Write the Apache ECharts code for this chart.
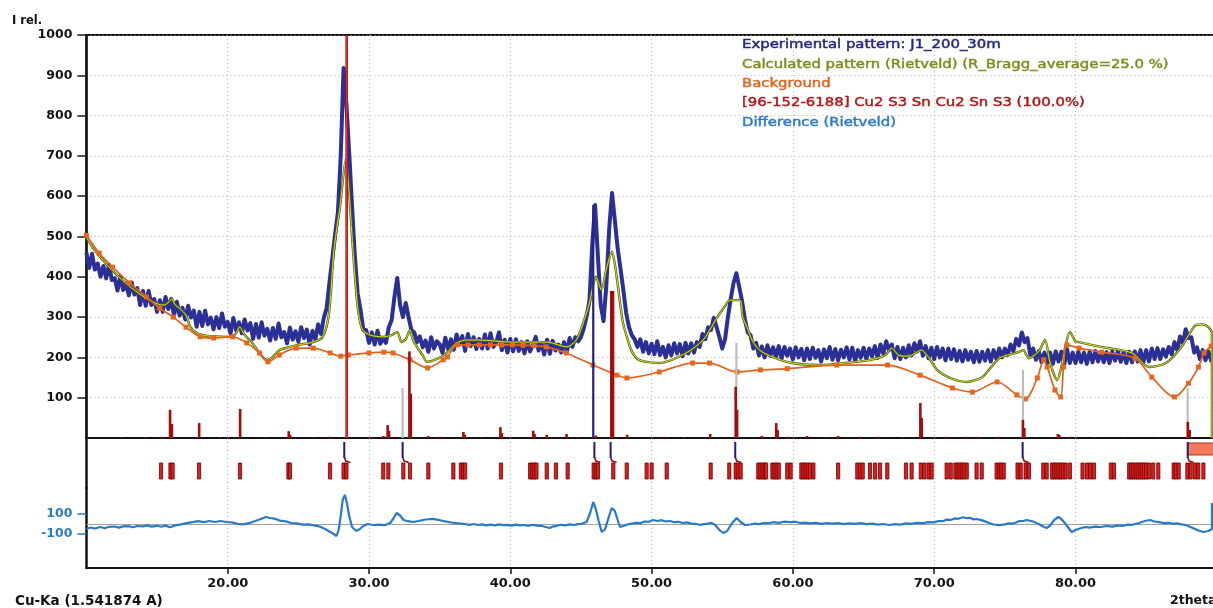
<!DOCTYPE html>
<html><head><meta charset="utf-8">
<script src="https://cdn.jsdelivr.net/npm/echarts@6/dist/echarts.min.js"></script>
<style>html,body{margin:0;padding:0;background:#fff;}#c{width:1213px;height:608px;}</style>
</head><body><div id="c"></div>
<script>
// ---------- data ----------
const expStart = 10, expStep = 0.2;
const expY = [
460,422,457,418,433, 400,427,396,430,392, 397,366,401,367,384, 354,386,356,372,330,
365,328,365,330,345, 313,342,313,350,320, 345,304,338,304,323, 294,328,299,316,276,
313,278,316,282,299, 270,300,273,309,276, 288,259,298,267,287, 260,294,267,285,246,
283,249,287,254,271, 242,273,246,284,250, 263,235,274,244,265, 239,275,248,269,232,
266,245,282,258,298, 322,385,445,505,560, 700,918,830,707,575, 450,358,318,268,268,
236,262,232,266,234, 248,236,275,292,350, 397,330,300,335,300, 268,262,238,252,225,
242,214,250,222,240, 233,211,249,221,245, 219,257,232,253,216, 258,228,250,221,246,
222,257,222,260,226, 237,262,218,244,212, 246,215,245,216,238, 210,240,215,231,251,
217,236,207,244,209, 241,217,232,212,238, 214,248,226,250,240, 250,272,302,340,480,
578,450,330,290,380, 520,608,540,470,420, 367,310,275,255,245, 226,245,214,238,210,
234,208,240,206,226, 200,230,205,235,210, 233,203,236,210,235, 212,238,226,258,245,
275,268,298,275,250, 222,245,300,345,385, 409,375,340,295,262, 255,222,236,205,227,
200,230,204,225,201, 228,197,226,204,222, 195,225,200,221,193, 222,196,224,199,218,
190,220,198,226,194, 221,193,219,200,225, 195,224,192,218,199, 224,196,222,203,228,
199,232,210,240,218, 232,198,226,196,224, 200,230,205,235,215, 240,204,228,198,224,
196,226,200,222,193, 222,196,220,192,216, 190,218,194,214,188, 216,189,214,192,218,
190,218,196,222,200, 222,206,232,215,246, 230,262,238,248,206, 222,194,215,188,212,
186,212,184,215,190, 214,182,220,186,212, 186,215,188,212,184, 214,188,216,190,212,
188,213,186,214,192, 215,189,212,186,214, 188,215,190,218,188, 218,190,222,196,223,
196,220,202,226,208, 238,218,252,236,270, 248,250,212,225,196, 218,193,215,192,212
];
const calcPts = [[10,498],[10.5,470],[11,448],[11.5,428],[12,410],[13,378],[14,352],[15,333],[15.5,330],[15.85,338],[16.05,345],[16.25,332],[16.65,320],[17.05,305],[17.35,276],[17.75,262],[18.25,255],[19.05,252],[20.05,251],[20.55,258],[20.85,276],[21.15,258],[21.75,236],[22.25,210],[22.75,194],[23.15,200],[23.65,218],[24.25,225],[24.85,230],[26.05,238],[26.7,250],[27.1,293],[27.3,360],[27.5,459],[27.8,540],[27.95,573],[28.15,640],[28.35,690],[28.55,630],[28.85,474],[29.05,380],[29.25,310],[29.55,268],[30.1,255],[31.0,251],[31.6,255],[32.0,263],[32.3,238],[32.6,245],[32.9,268],[33.1,245],[33.4,226],[33.8,205],[34.1,189],[34.5,192],[35.1,201],[35.5,211],[36.2,236],[36.9,243],[37.8,243],[40.1,238],[42.6,238],[44.0,226],[44.6,240],[44.9,260],[45.3,300],[45.6,335],[45.9,385],[46.05,400],[46.45,367],[46.8,420],[47.2,462],[47.45,420],[47.65,367],[47.95,290],[48.25,251],[48.6,215],[49.1,194],[50.55,186],[52.45,211],[53.65,243],[54.15,270],[54.65,300],[55.15,325],[55.55,342],[56.25,342],[56.45,300],[56.75,275],[57.15,240],[57.65,218],[58.55,201],[59.95,186],[61.85,181],[63.7,186],[65.5,194],[66.5,205],[67.0,223],[67.5,205],[68.2,203],[69.1,218],[69.6,200],[70.2,169],[71.1,149],[72.3,139],[73.4,151],[74.6,198],[75.8,211],[76.3,218],[76.7,198],[77.4,215],[77.85,243],[78.15,194],[78.45,160],[78.7,144],[79.0,176],[79.3,230],[79.6,263],[80.0,240],[80.25,238],[81.8,226],[84.0,211],[85.2,176],[86.4,186],[87.5,226],[88.0,255],[88.5,280],[89.0,282],[89.4,275],[89.65,262],[89.66,0]];
const bgPts = [[10,503],[10.9,459],[11.85,424],[13.05,385],[14.25,350],[15.2,322],[16.15,300],[17.05,275],[18.05,251],[19.0,248],[20.35,251],[21.35,236],[22.25,211],[22.85,189],[23.65,206],[24.85,223],[26.05,223],[27.25,211],[28.0,203],[28.55,206],[30.0,211],[31.05,213],[31.7,211],[32.9,194],[34.15,174],[35.25,194],[35.55,201],[36.25,231],[37.0,231],[37.8,231],[38.6,231],[39.4,231],[40.15,231],[40.9,230],[41.7,229],[42.55,226],[43.95,211],[45.85,181],[47.55,156],[48.25,149],[50.55,164],[52.9,186],[54.1,186],[56.05,164],[57.7,169],[59.6,172],[63.1,181],[66.7,181],[69.0,156],[71.3,124],[72.7,114],[74.45,139],[75.85,107],[76.45,97],[77.3,149],[77.75,194],[78.0,176],[78.55,119],[78.95,102],[79.15,176],[79.4,231],[80.25,223],[81.85,213],[84.2,198],[85.4,151],[87.0,102],[88.0,136],[88.7,176],[89.1,211],[89.6,228]];
const diffPts = [[10.0,-50],[10.3,-35],[10.6,-45],[11.0,-30],[11.3,-42],[11.6,-28],[12.0,-25],[12.3,-36],[12.6,-24],[13.0,-22],[13.3,-32],[13.6,-20],[14.0,-24],[14.3,-14],[14.6,-26],[15.0,-18],[15.3,-28],[15.6,-16],[15.9,-32],[16.3,-14],[16.7,-4],[17.1,8],[17.5,18],[17.9,28],[18.3,18],[18.7,30],[19.1,20],[19.5,30],[19.9,20],[20.3,16],[20.7,2],[21.1,-4],[21.5,8],[21.9,28],[22.3,48],[22.7,70],[23.0,60],[23.3,54],[23.7,34],[24.1,26],[24.5,10],[24.9,6],[25.3,-6],[25.7,-4],[26.1,-14],[26.5,-25],[26.9,-50],[27.2,-75],[27.5,-100],[27.7,-120],[27.85,-60],[28.0,80],[28.15,250],[28.3,290],[28.45,200],[28.6,80],[28.8,-30],[29.1,-70],[29.35,-50],[29.6,-20],[29.9,0],[30.3,-10],[30.7,-6],[31.1,-12],[31.5,10],[31.75,60],[31.95,110],[32.2,85],[32.45,40],[32.75,28],[33.1,20],[33.5,30],[34.0,45],[34.5,52],[34.9,42],[35.3,28],[35.8,15],[36.3,6],[36.8,0],[37.1,-8],[37.4,0],[37.7,-10],[38.0,-4],[38.3,-14],[38.6,-6],[38.9,-14],[39.2,-4],[39.5,-12],[39.8,-8],[40.1,-16],[40.4,-6],[40.7,-14],[41.0,-10],[41.3,-18],[41.6,-8],[41.9,-16],[42.2,-18],[42.5,-30],[42.8,-40],[43.0,-26],[43.3,-18],[43.6,-8],[43.9,-14],[44.2,-4],[44.5,-10],[44.8,-2],[45.0,0],[45.4,20],[45.65,110],[45.87,220],[46.05,150],[46.25,30],[46.47,-80],[46.7,-55],[46.95,60],[47.18,160],[47.4,130],[47.6,40],[47.76,-30],[48.0,-20],[48.4,0],[48.9,12],[49.2,8],[49.5,25],[49.8,22],[50.1,40],[50.4,30],[50.7,38],[51.0,26],[51.3,30],[51.6,18],[51.9,22],[52.2,10],[52.5,16],[52.8,4],[53.1,2],[53.4,-8],[53.7,-2],[54.0,4],[54.2,12],[54.5,-10],[54.8,-60],[55.07,-90],[55.35,-70],[55.65,0],[56.02,60],[56.3,20],[56.6,-10],[57.0,-5],[57.3,4],[57.6,-2],[57.9,10],[58.3,8],[58.6,18],[59.0,12],[59.4,24],[59.8,18],[60.2,22],[60.5,10],[60.9,14],[61.2,6],[61.6,12],[62.0,2],[62.4,10],[62.8,4],[63.2,8],[63.6,-2],[64.0,6],[64.4,2],[64.8,8],[65.2,-2],[65.6,4],[66.0,-6],[66.4,0],[66.8,-10],[67.2,-2],[67.6,-6],[68.0,6],[68.4,2],[68.8,12],[69.2,8],[69.6,18],[70.0,16],[70.3,30],[70.6,28],[70.9,44],[71.2,42],[71.5,56],[71.7,52],[72.06,68],[72.3,58],[72.5,62],[72.8,46],[73.0,50],[73.4,36],[73.8,15],[74.2,-5],[74.6,-12],[75.0,-4],[75.3,6],[75.6,4],[76.0,28],[76.3,30],[76.55,40],[77.0,25],[77.4,0],[77.7,-25],[77.96,-40],[78.2,-15],[78.5,40],[78.78,70],[79.0,50],[79.3,0],[79.73,-80],[80.0,-60],[80.4,-40],[80.7,-30],[81.0,-36],[81.4,-26],[81.8,-30],[82.2,-20],[82.6,-26],[83.0,-14],[83.4,-18],[83.7,-6],[84.0,-8],[84.5,10],[84.9,30],[85.27,40],[85.6,25],[86.0,16],[86.3,8],[86.6,12],[86.9,2],[87.2,6],[87.5,-4],[87.8,-10],[88.3,-40],[88.7,-65],[89.05,-80],[89.4,-70],[89.65,-50],[89.66,210]];
const redSticks = [[12.5,2],[14.2,2],[15.3,3],[15.92,70],[16.05,35],[17.98,37],[19.5,2],[20.88,72],[22.6,2],[24.32,17],[24.42,8],[26.0,2],[27.24,3],[28.42,1000],[30.2,2],[31.02,5],[31.32,32],[31.42,18],[32.86,215],[32.96,110],[34.2,5],[35.0,3],[36.68,15],[36.78,8],[38.0,2],[39.3,27],[39.4,12],[41.62,18],[41.72,10],[42.58,8],[43.98,10],[44.8,2],[46.05,6],[47.15,365],[47.27,365],[48.27,8],[50.9,3],[52.3,2],[54.15,10],[55.95,127],[56.05,70],[57.8,5],[58.82,37],[58.92,20],[59.7,3],[61.0,5],[62.4,2],[63.2,5],[64.8,3],[66.1,3],[67.7,2],[69.02,87],[69.12,50],[70.8,3],[72.2,3],[73.0,3],[74.6,3],[76.28,45],[76.38,25],[78.75,10],[78.85,8],[79.6,3],[81.3,2],[83.5,2],[85.8,2],[87.95,40],[88.08,20]];
const brightSticks = [[28.42,1000]];
const graySticks = [[32.38,124],[56.0,236],[76.28,169],[87.94,124]];
const navySticks = [[45.87,578]];
const braggPos = [15.28,15.95,16.1,17.97,20.87,24.3,24.4,27.24,28.2,28.4,31.01,31.37,32.43,32.9,34.2,35.97,36.5,36.65,36.8,39.34,41.4,41.55,41.7,41.85,42.58,43.23,44.06,45.9,46.05,46.2,47.29,48.24,49.65,50.0,51.07,54.18,55.5,55.95,56.1,56.3,57.55,57.7,57.85,58.0,58.1,58.55,58.7,58.85,59.0,59.6,59.84,60.6,60.75,60.9,61.05,61.2,61.45,63.2,64.56,64.75,64.94,65.46,65.82,66.17,66.68,68.0,68.4,69.05,69.3,69.6,69.82,70.88,71.17,71.5,71.65,71.8,71.95,72.1,72.3,73.0,73.36,74.42,74.6,74.75,74.92,75.9,76.12,76.47,76.7,77.72,77.96,78.35,78.5,78.65,78.8,78.95,79.1,79.3,79.6,80.5,80.82,81.05,81.3,82.5,82.72,83.8,83.95,84.1,84.25,84.4,84.55,84.7,84.85,85.0,85.2,85.5,85.86,86.95,87.1,87.3,87.92,88.15,88.46,88.69,89.05];
const hookPos = [28.25,32.38,45.95,47.1,55.92,76.26,87.94];
const salmonBand = [[87.94,90]];
const legendLines = [
  ['Experimental pattern: J1_200_30m', '#262680'],
  ['Calculated pattern (Rietveld) (R_Bragg_average=25.0 %)', '#7f8a1c'],
  ['Background', '#e0641e'],
  ['[96-152-6188] Cu2 S3 Sn Cu2 Sn S3 (100.0%)', '#b01818'],
  ['Difference (Rietveld)', '#2a7ac8']
];
const diffLabels = [-100, 100];
const mainLabels = [100,200,300,400,500,600,700,800,900,1000];

// ---------- build ----------
const expData = expY.map((y, i) => [+(expStart + i * expStep).toFixed(1), y]);
const FONT = '"DejaVu Sans", "Liberation Sans", sans-serif';
const GL = 86.4, GW = 1130.4;
const dotted = {show: true, lineStyle: {color: '#b4b4b4', type: [1, 3], width: 1}};

function stick(w, fill) {
  return function (params, api) {
    const x = api.value(0), h = api.value(1);
    const a = api.coord([x, 0]), b = api.coord([x, h]);
    return {type: 'rect', shape: {x: a[0] - w / 2, y: b[1], width: w, height: a[1] - b[1]}, style: {fill: fill}};
  };
}
function braggRender(params, api) {
  const x = api.value(0);
  const a = api.coord([x, 25]), b = api.coord([x, 41]);
  return {type: 'rect', shape: {x: a[0] - 1.6, y: a[1], width: 3.2, height: b[1] - a[1]},
    style: {fill: '#d82020', stroke: '#6a0000', lineWidth: 0.8}};
}
function hookRender(params, api) {
  const x = api.value(0);
  const t = api.coord([x, 4]), b = api.coord([x, 20]);
  return {type: 'group', children: [
    {type: 'line', shape: {x1: t[0], y1: t[1], x2: b[0], y2: b[1]}, style: {stroke: '#1c1c80', lineWidth: 2}},
    {type: 'polyline', shape: {points: [[b[0], b[1] - 1], [b[0] + 1.5, b[1] + 3], [b[0] + 6, b[1] + 4.5]]},
      style: {stroke: '#8a1010', lineWidth: 1.6, fill: null}}
  ]};
}
function bandRender(params, api) {
  const a = api.coord([api.value(0), 5]), b = api.coord([api.value(1), 17]);
  return {type: 'rect', shape: {x: a[0], y: a[1], width: b[0] - a[0], height: b[1] - a[1]},
    style: {fill: '#f27a5c', stroke: '#b0301e', lineWidth: 1}};
}

const chart = echarts.init(document.getElementById('c'), null, {renderer: 'canvas'});
const graphic = [
  {type: 'text', x: 12, y: 21, style: {text: 'I rel.', fill: '#111', fontSize: 11.5, fontWeight: 'bold', fontFamily: FONT, verticalAlign: 'middle'}},
  {type: 'text', x: 15, y: 601, style: {text: 'Cu-Ka (1.541874 A)', fill: '#111', fontSize: 13.5, fontWeight: 'bold', fontFamily: FONT, verticalAlign: 'middle'}},
  {type: 'text', x: 1170, y: 601, style: {text: '2theta', fill: '#111', fontSize: 12.5, fontWeight: 'bold', fontFamily: FONT, verticalAlign: 'middle'}}
];
legendLines.forEach((l, i) => {
  graphic.push({type: 'text', x: 742, y: 45 + i * 19.4, scaleX: 1.22, z: 100,
    style: {text: l[0], fill: l[1], stroke: l[1], lineWidth: 0.45, fontSize: 12.2, fontFamily: FONT, verticalAlign: 'middle'}});
});

chart.setOption({
  animation: false,
  backgroundColor: '#fff',
  graphic: graphic,
  grid: [
    {left: GL, top: 35, width: GW, height: 403, show: true, borderColor: '#141414', borderWidth: 2, outerBoundsMode: 'none', containLabel: false},
    {left: GL, top: 438, width: GW, height: 50, outerBoundsMode: 'none', containLabel: false},
    {left: GL, top: 488, width: GW, height: 80, outerBoundsMode: 'none', containLabel: false}
  ],
  xAxis: [
    {gridIndex: 0, type: 'value', min: 10, max: 90, interval: 10, axisLine: {show: false}, axisTick: {show: false}, axisLabel: {show: false}, splitLine: dotted},
    {gridIndex: 1, type: 'value', min: 10, max: 90, interval: 10, axisLine: {show: false}, axisTick: {show: false}, axisLabel: {show: false}, splitLine: dotted},
    {gridIndex: 2, type: 'value', min: 10, max: 90, interval: 10,
      axisLine: {show: true, onZero: false, lineStyle: {color: '#141414', width: 2}},
      axisTick: {show: true, length: 6, lineStyle: {color: '#141414', width: 1.5}},
      axisLabel: {show: true, margin: 9, color: '#141414', fontSize: 13, fontWeight: 'bold', fontFamily: FONT,
        showMinLabel: false, showMaxLabel: false, formatter: v => v.toFixed(2)},
      splitLine: dotted}
  ],
  yAxis: [
    {gridIndex: 0, type: 'value', min: 0, max: 1000, interval: 100,
      axisLine: {show: true, lineStyle: {color: '#141414', width: 2.5}},
      axisTick: {show: true, length: 9, customValues: mainLabels, lineStyle: {color: '#141414', width: 1.5}},
      axisLabel: {show: true, margin: 14, customValues: mainLabels, color: '#141414', fontSize: 12.5, fontWeight: 'bold', fontFamily: FONT,
        formatter: v => (v === 0 ? '' : String(v))},
      splitLine: dotted},
    {gridIndex: 1, type: 'value', min: 0, max: 50, inverse: true,
      axisLine: {show: true, lineStyle: {color: '#141414', width: 2.5}}, axisTick: {show: false}, axisLabel: {show: false}, splitLine: {show: false}},
    {gridIndex: 2, type: 'value', min: -440, max: 360, interval: 40,
      axisLine: {show: true, onZero: false, lineStyle: {color: '#141414', width: 2.5}},
      axisTick: {show: true, length: 9, customValues: diffLabels, lineStyle: {color: '#2a7ac8', width: 1.5}},
      axisLabel: {show: true, margin: 14, customValues: diffLabels, color: '#2a7ac8', fontSize: 12.5, fontWeight: 'bold', fontFamily: FONT},
      splitLine: {show: false}}
  ],
  series: [
    {name: 'Experimental', type: 'line', xAxisIndex: 0, yAxisIndex: 0, data: expData, showSymbol: false, z: 2,
      lineStyle: {color: '#2c3096', width: 4, join: 'round'}, clip: true},
    {name: 'CalcShadow', type: 'line', xAxisIndex: 0, yAxisIndex: 0, data: calcPts, showSymbol: false, smooth: 0.25, z: 3,
      lineStyle: {color: '#4e6410', width: 2.4}, clip: true},
    {name: 'Calculated', type: 'line', xAxisIndex: 0, yAxisIndex: 0, data: calcPts, showSymbol: false, smooth: 0.25, z: 4,
      lineStyle: {color: '#dade30', width: 1.0}, clip: true},
    {name: 'Background', type: 'line', xAxisIndex: 0, yAxisIndex: 0, data: bgPts, smooth: 0.3, z: 5,
      symbol: 'rect', symbolSize: 5, showSymbol: true, itemStyle: {color: '#e8661c'},
      lineStyle: {color: '#e0621c', width: 1.7}, clip: true},
    {name: 'Gray', type: 'custom', xAxisIndex: 0, yAxisIndex: 0, data: graySticks, renderItem: stick(2.2, '#bdbdbd'), z: 6, clip: true},
    {name: 'Phase', type: 'custom', xAxisIndex: 0, yAxisIndex: 0, data: redSticks, renderItem: stick(2.6, '#a00e0e'), z: 7, clip: true},
    {name: 'PhaseHi', type: 'custom', xAxisIndex: 0, yAxisIndex: 0, data: brightSticks, renderItem: stick(1.2, '#f03030'), z: 8, clip: true},
    {name: 'Navy', type: 'custom', xAxisIndex: 0, yAxisIndex: 0, data: navySticks, renderItem: stick(2.2, '#22228a'), z: 8, clip: true},
    {name: 'Bragg', type: 'custom', xAxisIndex: 1, yAxisIndex: 1, data: braggPos.map(x => [x, 0]), renderItem: braggRender, z: 5, clip: true},
    {name: 'Hooks', type: 'custom', xAxisIndex: 1, yAxisIndex: 1, data: hookPos.map(x => [x, 0]), renderItem: hookRender, z: 6, clip: true},
    {name: 'Band', type: 'custom', xAxisIndex: 1, yAxisIndex: 1, data: salmonBand, renderItem: bandRender, z: 4, clip: true},
    {name: 'Difference', type: 'line', xAxisIndex: 2, yAxisIndex: 2, data: diffPts, showSymbol: false, z: 5,
      lineStyle: {color: '#2a7ac8', width: 2.2}, clip: true,
      markLine: {silent: true, symbol: 'none', label: {show: false}, z: 1,
        lineStyle: {color: '#a0a0a0', width: 1, type: 'solid'}, data: [{yAxis: 0}]}}
  ]
});
</script>
</body></html>
